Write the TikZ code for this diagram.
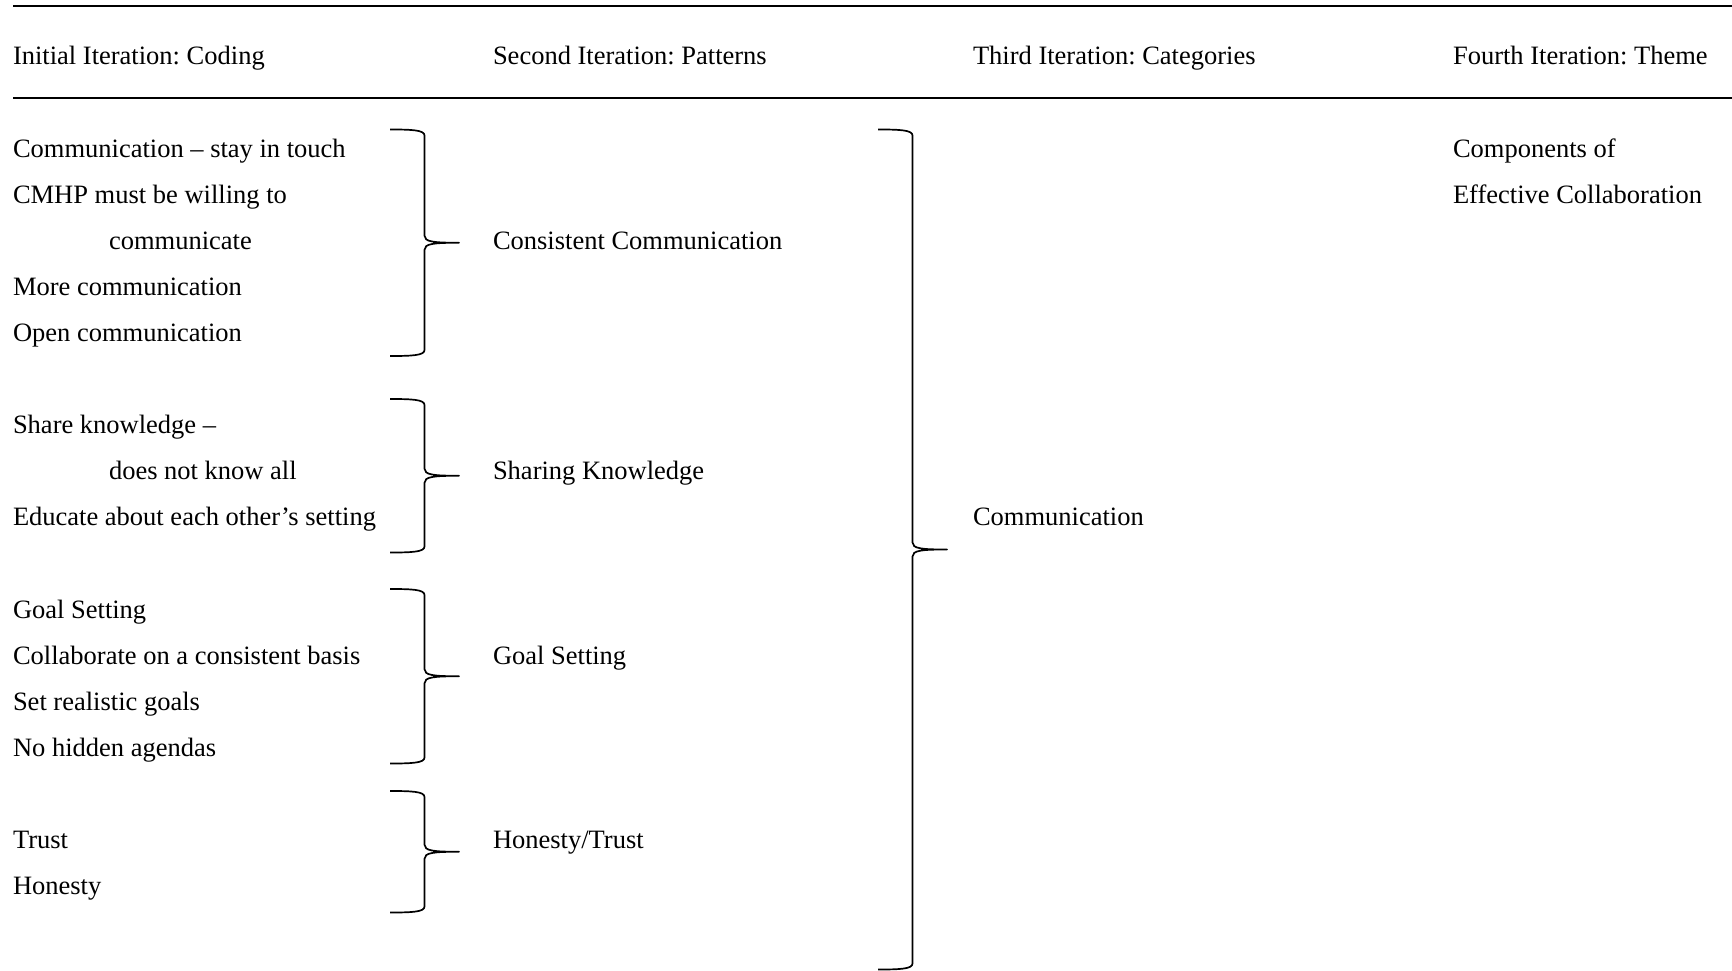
\documentclass[tikz,border=0pt]{standalone}
\usepackage{fontspec}
\setmainfont{Liberation Serif}
\frenchspacing
\begin{document}
% Curly brace opening to the right: #1 left end of hooks, #2 spine x,
% #3 tip x, #4 top y, #5 bottom y (y grows downwards)
\newcommand\RightBrace[5]{%
  \draw[bracestroke]
    (#1,#4) .. controls ({#1+22},#4) and (#2,{#4+0.5}) .. (#2,{#4+6})
    -- (#2,{(#4+#5)/2-7})
    .. controls (#2,{(#4+#5)/2-1}) and ({#3-26},{(#4+#5)/2}) .. (#3,{(#4+#5)/2})
    .. controls ({#3-26},{(#4+#5)/2}) and (#2,{(#4+#5)/2+1}) .. (#2,{(#4+#5)/2+7})
    -- (#2,{#5-6})
    .. controls (#2,{#5-0.5}) and ({#1+22},#5) .. (#1,#5);}
\begin{tikzpicture}[x=1pt,y=-1pt,
  every node/.style={inner sep=0pt,outer sep=0pt,anchor=base west,
    font=\fontsize{26.5}{30}\selectfont},
  rule/.style={line width=1.2pt},
  bracestroke/.style={line width=1.7pt,line join=round}]
\useasboundingbox (0,0) rectangle (1732,971);

% table rules
\draw[rule] (13,6) -- (1732,6);
\draw[rule] (13,98) -- (1732,98);

% column headings
\def\hy{65}
\node (h1) at (13,\hy) {Initial Iteration: Coding};
\node (h2) at (493,\hy) {Second Iteration: Patterns};
\node (h3) at (973,\hy) {Third Iteration: Categories};
\node (h4) at (1453,\hy) {Fourth Iteration: Theme};

% row baselines
\def\row#1{{157.3+46.07*#1}}

% codes
\node (c1)  at (13,\row{0})  {Communication -- stay in touch};
\node (c2)  at (13,\row{1})  {CMHP must be willing to};
\node (c2b) at (109,\row{2}) {communicate};
\node (c3)  at (13,\row{3})  {More communication};
\node (c4)  at (13,\row{4})  {Open communication};
\node (c5)  at (13,\row{6})  {Share knowledge --};
\node (c5b) at (109,\row{7}) {does not know all};
\node (c6)  at (13,\row{8})  {Educate about each other’s setting};
\node (c7)  at (13,\row{10}) {Goal Setting};
\node (c8)  at (13,\row{11}) {Collaborate on a consistent basis};
\node (c9)  at (13,\row{12}) {Set realistic goals};
\node (c10) at (13,\row{13}) {No hidden agendas};
\node (c11) at (13,\row{15}) {Trust};
\node (c12) at (13,\row{16}) {Honesty};

% patterns
\node (p1) at (493,\row{2})  {Consistent Communication};
\node (p2) at (493,\row{7})  {Sharing Knowledge};
\node (p3) at (493,\row{11}) {Goal Setting};
\node (p4) at (493,\row{15}) {Honesty/Trust};

% category
\node (k1) at (973,\row{8}) {Communication};

% theme
\node (t1) at (1453,\row{0}) {Components of};
\node (t2) at (1453,\row{1}) {Effective Collaboration};

% grouping braces
\RightBrace{390}{424.5}{459}{129.5}{356}
\RightBrace{390}{424.5}{459}{399}{552.5}
\RightBrace{390}{424.5}{459}{589}{763.5}
\RightBrace{390}{424.5}{459}{791}{912.5}
\RightBrace{878}{912.5}{947}{129.5}{969.5}
\end{tikzpicture}
\end{document}
